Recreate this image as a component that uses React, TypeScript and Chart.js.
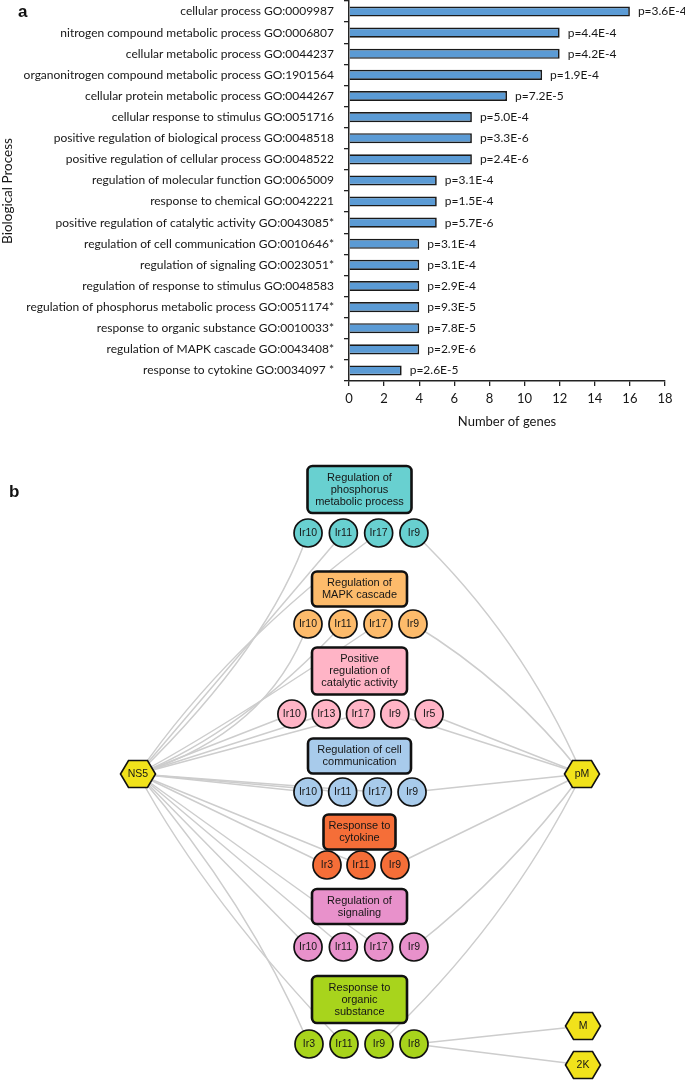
import React, { useEffect, useRef } from 'react';
import { Chart, registerables } from 'chart.js';
Chart.register(...registerables);

// ---------- Panel a data ----------
const categories = [
  'cellular process GO:0009987',
  'nitrogen compound metabolic process GO:0006807',
  'cellular metabolic process GO:0044237',
  'organonitrogen compound metabolic process GO:1901564',
  'cellular protein metabolic process GO:0044267',
  'cellular response to stimulus GO:0051716',
  'positive regulation of biological process GO:0048518',
  'positive regulation of cellular process GO:0048522',
  'regulation of molecular function GO:0065009',
  'response to chemical GO:0042221',
  'positive regulation of catalytic activity GO:0043085*',
  'regulation of cell communication GO:0010646*',
  'regulation of signaling GO:0023051*',
  'regulation of response to stimulus GO:0048583',
  'regulation of phosphorus metabolic process GO:0051174*',
  'response to organic substance GO:0010033*',
  'regulation of MAPK cascade GO:0043408*',
  'response to cytokine GO:0034097 *',
];
const geneCounts = [16, 12, 12, 11, 9, 7, 7, 7, 5, 5, 5, 4, 4, 4, 4, 4, 4, 3];
const pValues = [
  'p=3.6E-4', 'p=4.4E-4', 'p=4.2E-4', 'p=1.9E-4', 'p=7.2E-5', 'p=5.0E-4',
  'p=3.3E-6', 'p=2.4E-6', 'p=3.1E-4', 'p=1.5E-4', 'p=5.7E-6', 'p=3.1E-4',
  'p=3.1E-4', 'p=2.9E-4', 'p=9.3E-5', 'p=7.8E-5', 'p=2.9E-6', 'p=2.6E-5',
];
const xAxisMin = 0;
const xAxisMax = 18;
const xAxisStep = 2;

// ---------- Panel b data ----------
const hubNames = ['NS5', 'pM', 'M', '2K'];
const hubX = [138, 582, 583, 583];
const hubY = [774, 774, 1026, 1065];

const groupTitles = [
  ['Regulation of', 'phosphorus', 'metabolic process'],
  ['Regulation of', 'MAPK cascade'],
  ['Positive', 'regulation of', 'catalytic activity'],
  ['Regulation of cell', 'communication'],
  ['Response to', 'cytokine'],
  ['Regulation of', 'signaling'],
  ['Response to', 'organic', 'substance'],
];
const groupMembers = [
  ['Ir10', 'Ir11', 'Ir17', 'Ir9'],
  ['Ir10', 'Ir11', 'Ir17', 'Ir9'],
  ['Ir10', 'Ir13', 'Ir17', 'Ir9', 'Ir5'],
  ['Ir10', 'Ir11', 'Ir17', 'Ir9'],
  ['Ir3', 'Ir11', 'Ir9'],
  ['Ir10', 'Ir11', 'Ir17', 'Ir9'],
  ['Ir3', 'Ir11', 'Ir9', 'Ir8'],
];
const groupBoxY = [489.5, 589, 671, 756, 832, 906.5, 999.5];
const groupRowY = [533, 624, 714, 792, 865, 947, 1044];

// edges: [hub, group index, member]
const edges: [string, number, string][] = [
  ['NS5', 0, 'Ir10'], ['NS5', 0, 'Ir11'], ['NS5', 0, 'Ir17'],
  ['NS5', 1, 'Ir10'], ['NS5', 1, 'Ir11'], ['NS5', 1, 'Ir17'],
  ['NS5', 2, 'Ir10'], ['NS5', 2, 'Ir13'], ['NS5', 2, 'Ir17'],
  ['NS5', 3, 'Ir10'], ['NS5', 3, 'Ir11'], ['NS5', 3, 'Ir17'],
  ['NS5', 4, 'Ir3'], ['NS5', 4, 'Ir11'],
  ['NS5', 5, 'Ir10'], ['NS5', 5, 'Ir11'], ['NS5', 5, 'Ir17'],
  ['NS5', 6, 'Ir3'], ['NS5', 6, 'Ir11'],
  ['pM', 0, 'Ir9'], ['pM', 1, 'Ir9'], ['pM', 2, 'Ir9'], ['pM', 2, 'Ir5'],
  ['pM', 3, 'Ir9'], ['pM', 4, 'Ir9'], ['pM', 5, 'Ir9'], ['pM', 6, 'Ir9'],
  ['M', 6, 'Ir8'], ['2K', 6, 'Ir8'],
];

// ---------- layout / style constants ----------
const groupColors = ['#68D0D0', '#FDBB6B', '#FFB4C6', '#A8CBEB', '#F56E38', '#E891CB', '#A8D41C'];
const boxCx = 359.5;
const boxWidths = [104, 95, 95, 103, 72, 95, 95];
const rowCx = [361, 360.5, 360.5, 360, 361, 361, 361.5];
const rowSpacing = [35.3, 35, 34.3, 34.7, 34, 35.3, 35];
// edge bundling: edges hub->group pass through a shared point at parameter t
const edgeBundles: Record<string, [number, number, number]> = {
  'NS5-0': [255, 637, 0.55],
  'NS5-1': [262, 700, 0.6],
  'NS5-6': [268, 960, 0.7],
  'pM-0': [510, 645, 0.5],
  'pM-1': [504, 691, 0.5],
  'pM-5': [504, 866, 0.5],
  'pM-6': [493, 918, 0.5],
};
const NET_TOP = 440;
const NET_H = 640;
const BAR_H = 440;
const W = 685;
const FONT_A = 'Lato, "Open Sans", sans-serif';
const FONT_B = '"Liberation Sans", Arial, sans-serif';
const INK = '#161616';

function memberPoints(g: number) {
  const n = groupMembers[g].length;
  return groupMembers[g].map((name, i) => ({
    x: rowCx[g] + (i - (n - 1) / 2) * rowSpacing[g],
    y: groupRowY[g],
    name,
  }));
}

function makeHex(): HTMLCanvasElement {
  const c = document.createElement('canvas');
  c.width = 40;
  c.height = 32;
  const ctx = c.getContext('2d')!;
  const cx = 20, cy = 16, hw = 17.5, hh = 13.5, tw = 9.5;
  ctx.beginPath();
  ctx.moveTo(cx - hw, cy);
  ctx.lineTo(cx - tw, cy - hh);
  ctx.lineTo(cx + tw, cy - hh);
  ctx.lineTo(cx + hw, cy);
  ctx.lineTo(cx + tw, cy + hh);
  ctx.lineTo(cx - tw, cy + hh);
  ctx.closePath();
  ctx.fillStyle = '#F1E21B';
  ctx.fill();
  ctx.lineWidth = 1.6;
  ctx.strokeStyle = '#111';
  ctx.stroke();
  return c;
}

function roundRect(ctx: CanvasRenderingContext2D, x: number, y: number, w: number, h: number, r: number) {
  ctx.beginPath();
  ctx.moveTo(x + r, y);
  ctx.lineTo(x + w - r, y);
  ctx.arcTo(x + w, y, x + w, y + r, r);
  ctx.lineTo(x + w, y + h - r);
  ctx.arcTo(x + w, y + h, x + w - r, y + h, r);
  ctx.lineTo(x + r, y + h);
  ctx.arcTo(x, y + h, x, y + h - r, r);
  ctx.lineTo(x, y + r);
  ctx.arcTo(x, y, x + r, y, r);
  ctx.closePath();
}

export default function App() {
  const barRef = useRef<HTMLCanvasElement>(null);
  const netRef = useRef<HTMLCanvasElement>(null);

  useEffect(() => {
    const pLabelPlugin = {
      id: 'pLabels',
      afterDatasetsDraw(chart: any) {
        const ctx = chart.ctx;
        const meta = chart.getDatasetMeta(0);
        ctx.save();
        ctx.font = `12px ${FONT_A}`;
        ctx.fillStyle = INK;
        ctx.textAlign = 'left';
        ctx.textBaseline = 'middle';
        meta.data.forEach((bar: any, i: number) => {
          ctx.fillText(pValues[i], bar.x + 8, bar.y);
        });
        ctx.font = `bold 17px ${FONT_B}`;
        ctx.textBaseline = 'alphabetic';
        ctx.fillStyle = '#111';
        ctx.fillText('a', 18, 17);
        ctx.restore();
      },
    };

    const bar = new Chart(barRef.current!, {
      type: 'bar',
      data: {
        labels: categories,
        datasets: [
          {
            data: geneCounts,
            backgroundColor: '#5B9BD5',
            borderColor: '#1a1a1a',
            borderWidth: 1.7,
            barPercentage: 0.48,
            categoryPercentage: 1,
          },
        ],
      },
      options: {
        indexAxis: 'y',
        responsive: false,
        animation: false,
        layout: { padding: { left: 0, right: 20, top: 1, bottom: 0 } },
        plugins: { legend: { display: false }, tooltip: { enabled: false } },
        scales: {
          x: {
            min: xAxisMin,
            max: xAxisMax,
            ticks: { stepSize: xAxisStep, color: INK, font: { family: FONT_A, size: 13 }, padding: 5 },
            grid: { drawOnChartArea: false, color: '#222', tickLength: 5, lineWidth: 1.3 },
            border: { color: '#222', width: 1.5 },
            title: {
              display: true,
              text: 'Number of genes',
              color: INK,
              font: { family: FONT_A, size: 13 },
              padding: { top: 0, bottom: 10 },
            },
            afterFit: (s: any) => {
              s.height = BAR_H - 381;
              s.paddingLeft = 0;
              s.paddingRight = 0;
            },
          },
          y: {
            ticks: { color: INK, font: { family: FONT_A, size: 12 }, padding: 10, autoSkip: false },
            grid: { drawOnChartArea: false, color: '#222', tickLength: 5, lineWidth: 1.3 },
            border: { color: '#222', width: 1.5 },
            title: {
              display: true,
              text: 'Biological Process',
              color: INK,
              font: { family: FONT_A, size: 13.5 },
              padding: { top: 0, bottom: 0 },
            },
            afterFit: (s: any) => {
              s.width = 349;
              s.paddingTop = 0;
              s.paddingBottom = 0;
            },
          },
        },
      },
      plugins: [pLabelPlugin],
    } as any);

    // ---------- network ----------
    const hex = makeHex();
    const groupPts = groupMembers.map((_, g) => memberPoints(g));

    const netPlugin = {
      id: 'network',
      beforeDatasetsDraw(chart: any) {
        const ctx = chart.ctx;
        const xs = chart.scales.x;
        const ys = chart.scales.y;
        const px = (v: number) => xs.getPixelForValue(v);
        const py = (v: number) => ys.getPixelForValue(v);
        ctx.save();
        // edges
        ctx.strokeStyle = '#CDCDCD';
        ctx.lineWidth = 1.5;
        edges.forEach(([hub, g, m]) => {
          const h = hubNames.indexOf(hub);
          const p = groupPts[g].find((q) => q.name === m)!;
          const x0 = hubX[h], y0 = hubY[h];
          const x2 = p.x, y2 = p.y;
          ctx.beginPath();
          ctx.moveTo(px(x0), py(y0));
          const b = edgeBundles[`${hub}-${g}`];
          if (b) {
            const [bx, by, t] = b;
            const a = (1 - t) * (1 - t);
            const c = t * t;
            const k = 2 * t * (1 - t);
            const cx = (bx - a * x0 - c * x2) / k;
            const cy = (by - a * y0 - c * y2) / k;
            ctx.quadraticCurveTo(px(cx), py(cy), px(x2), py(y2));
          } else {
            ctx.lineTo(px(x2), py(y2));
          }
          ctx.stroke();
        });
        // boxes
        groupTitles.forEach((lines, g) => {
          const bw = boxWidths[g];
          const bh = lines.length * 12 + 11;
          const cx = px(boxCx);
          const cy = py(groupBoxY[g]);
          roundRect(ctx, cx - bw / 2, cy - bh / 2, bw, bh, 5);
          ctx.fillStyle = groupColors[g];
          ctx.fill();
          ctx.lineWidth = 2.6;
          ctx.strokeStyle = '#111';
          ctx.stroke();
          ctx.fillStyle = INK;
          ctx.font = `11px ${FONT_B}`;
          ctx.textAlign = 'center';
          ctx.textBaseline = 'middle';
          lines.forEach((t, i) => {
            ctx.fillText(t, cx, cy + (i - (lines.length - 1) / 2) * 12);
          });
        });
        ctx.restore();
      },
      afterDatasetsDraw(chart: any) {
        const ctx = chart.ctx;
        ctx.save();
        ctx.fillStyle = INK;
        ctx.textAlign = 'center';
        ctx.textBaseline = 'middle';
        ctx.font = `10.5px ${FONT_B}`;
        chart.data.datasets.forEach((ds: any, di: number) => {
          const meta = chart.getDatasetMeta(di);
          meta.data.forEach((el: any, i: number) => {
            ctx.fillText(ds.data[i].name, el.x, el.y + 0.5);
          });
        });
        ctx.font = `bold 17px ${FONT_B}`;
        ctx.textAlign = 'left';
        ctx.textBaseline = 'alphabetic';
        ctx.fillStyle = '#111';
        ctx.fillText('b', 9, 497 - NET_TOP);
        ctx.restore();
      },
    };

    const datasets: any[] = groupPts.map((pts, g) => ({
      data: pts,
      pointRadius: 14,
      pointHoverRadius: 14,
      pointBackgroundColor: groupColors[g],
      pointBorderColor: '#111',
      pointBorderWidth: 1.7,
      showLine: false,
      clip: false,
    }));
    datasets.push({
      data: hubNames.map((name, i) => ({ x: hubX[i], y: hubY[i], name })),
      pointStyle: hex,
      pointRadius: 16,
      pointHoverRadius: 16,
      showLine: false,
      clip: false,
    });

    const net = new Chart(netRef.current!, {
      type: 'scatter',
      data: { datasets },
      options: {
        responsive: false,
        animation: false,
        layout: { padding: 0, autoPadding: false },
        plugins: { legend: { display: false }, tooltip: { enabled: false } },
        scales: {
          x: { display: false, min: 0, max: W },
          y: { display: false, min: NET_TOP, max: NET_TOP + NET_H, reverse: true },
        },
      },
      plugins: [netPlugin],
    } as any);

    return () => {
      bar.destroy();
      net.destroy();
    };
  }, []);

  return (
    <div style={{ position: 'absolute', left: 0, top: 0, width: W, height: 1080, background: '#fff' }}>
      <canvas ref={barRef} width={W} height={BAR_H} style={{ position: 'absolute', left: 0, top: 0 }} />
      <canvas ref={netRef} width={W} height={NET_H} style={{ position: 'absolute', left: 0, top: NET_TOP }} />
    </div>
  );
}
